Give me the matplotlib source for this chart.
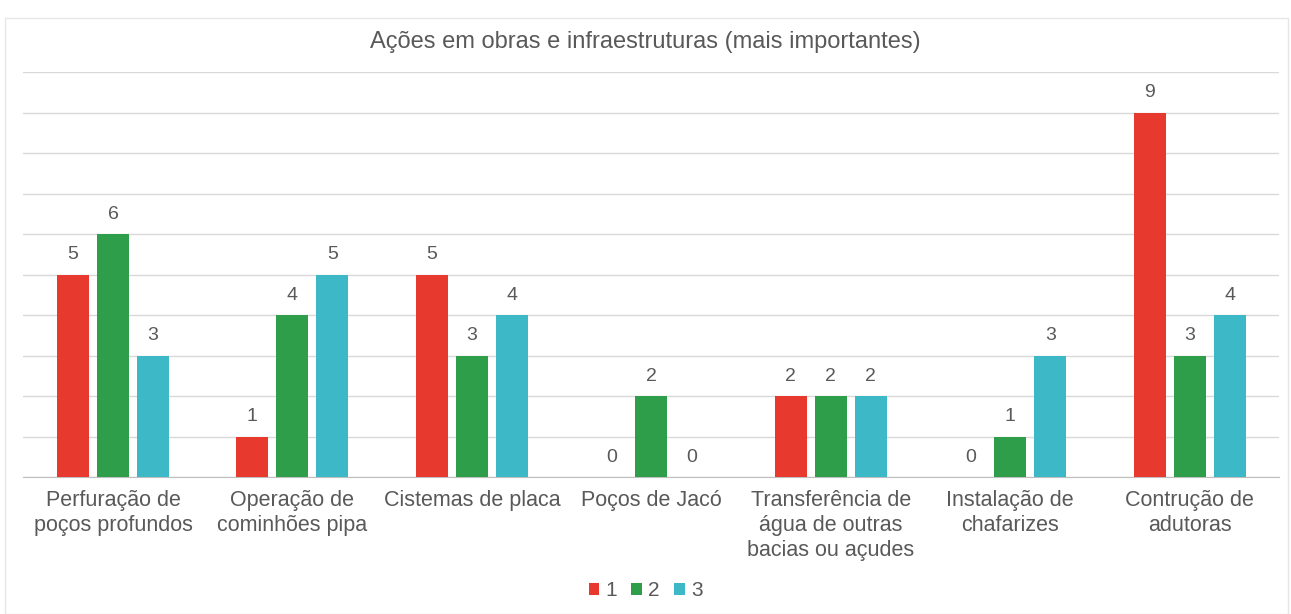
import numpy as np
import matplotlib
matplotlib.use('Agg')
import matplotlib.pyplot as plt
from matplotlib.patches import Rectangle

plt.rcParams['font.family'] = ['Liberation Sans', 'DejaVu Sans']

categories = ['Perfuração de\npoços profundos', 'Operação de\ncominhões pipa', 'Cistemas de placa',
              'Poços de Jacó', 'Transferência de\nágua de outras\nbacias ou açudes',
              'Instalação de\nchafarizes', 'Contrução de\nadutoras']
serie1 = [5, 1, 5, 0, 2, 0, 9]
serie2 = [6, 4, 3, 2, 2, 1, 3]
serie3 = [3, 5, 4, 0, 2, 3, 4]
labels = ['1', '2', '3']
colors = ['#E8392F', '#2E9E4A', '#3DB8C6']
txt = '#595959'

fig = plt.figure(figsize=(12.91, 6.14), dpi=100)
ax = fig.add_axes([0.018, 0.2231, 0.973, 0.6596])

x = np.arange(len(categories))
w = 0.178
off = 0.223
for i, (vals, c, lab) in enumerate(zip([serie1, serie2, serie3], colors, labels)):
    pos = x + (i - 1) * off
    ax.bar(pos, vals, width=w, color=c, label=lab, zorder=3)
    for p, v in zip(pos, vals):
        ax.text(p, v + 0.28, str(v), ha='center', va='bottom', fontsize=14, color=txt)

ax.set_xlim(-0.5, len(categories) - 0.5)
ax.set_ylim(0, 10)
ax.set_yticks(range(0, 11))
ax.yaxis.grid(True, color='#D9D9D9', linewidth=1, zorder=0)
ax.tick_params(axis='y', left=False, labelleft=False)
ax.tick_params(axis='x', length=0, pad=9, labelsize=15.5, labelcolor=txt)
ax.set_xticks(x)
ax.set_xticklabels(categories, linespacing=1.25, va='top')
for s in ['top', 'right', 'left']:
    ax.spines[s].set_visible(False)
ax.spines['bottom'].set_color('#BFBFBF')

fig.text(0.5, 0.932, 'Ações em obras e infraestruturas (mais importantes)', ha='center', va='center',
         fontsize=17, color=txt)

fig.legend(loc='center', bbox_to_anchor=(0.5, 0.038), ncol=3, frameon=False, fontsize=15,
           handlelength=0.5, handleheight=0.5, handletextpad=0.3, columnspacing=0.7, labelcolor=txt)

fig.patches.append(Rectangle((0.004, 0.0), 0.994, 0.97, transform=fig.transFigure, fill=False,
                             edgecolor='#E6E6E6', linewidth=1))

fig.savefig('out.png', dpi=100)
